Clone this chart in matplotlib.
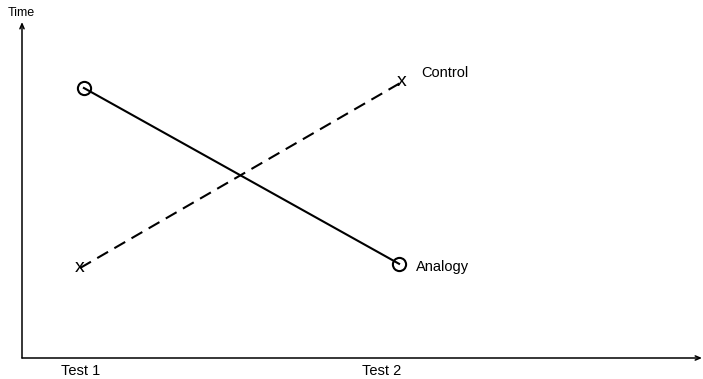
import matplotlib.pyplot as plt

# Data (Time in arbitrary units, tests at x = 1 and 2)
tests = ['Test 1', 'Test 2']
test_x = [1, 2]
analogy_x = [1.006, 1.997]
analogy_time = [4.5, 1.57]
control_x = [0.994, 2.006]
control_time = [1.5, 4.6]

plt.rcParams['font.family'] = ['Liberation Sans', 'DejaVu Sans']

fig = plt.figure(figsize=(7.03, 3.79), dpi=100)
ax = fig.add_axes([22 / 703, 21 / 379, 680 / 703, 336 / 379])
ax.set_xlim(1 - 60 / 318, 1 + 620 / 318)
ax.set_ylim(0, 5.6)
ax.axis('off')

# axes with arrow heads
arrow = dict(arrowstyle='->, head_length=0.35, head_width=0.15', lw=1.1, color='black',
             shrinkA=0, shrinkB=0)
ax.annotate('', xy=(1, 0), xytext=(0, 0), xycoords='axes fraction', arrowprops=arrow)
ax.annotate('', xy=(0, 1), xytext=(0, 0), xycoords='axes fraction', arrowprops=arrow)
ax.text(-0.001, 1.027, 'Time', transform=ax.transAxes, ha='center', va='center', fontsize=9)

# Analogy: solid line with open circles
ax.plot(analogy_x, analogy_time, color='black', lw=1.5, marker='o', ms=9.5,
        mfc='none', mec='black', mew=1.5)
# Control: dashed line with "x" marks
ax.plot(control_x, control_time, color='black', lw=1.5, dashes=(6, 3.5))
for x, y in zip(control_x, control_time):
    ax.text(x, y, 'x', ha='center', va='center', fontsize=14)

ax.annotate('Analogy', xy=(analogy_x[-1], analogy_time[-1]), xytext=(12, -2.5),
            textcoords='offset points', ha='left', va='center', fontsize=10.5)
ax.annotate('Control', xy=(control_x[-1], control_time[-1]), xytext=(14, 6.5),
            textcoords='offset points', ha='left', va='center', fontsize=10.5)

# test labels under the x axis
for x, lab, dx in zip(test_x, tests, [-1, -18]):
    ax.annotate(lab, xy=(x, 0), xytext=(dx * 0.72, -9.5), textcoords='offset points',
                ha='center', va='center', fontsize=10.5)

fig.savefig('out.png', dpi=100)
